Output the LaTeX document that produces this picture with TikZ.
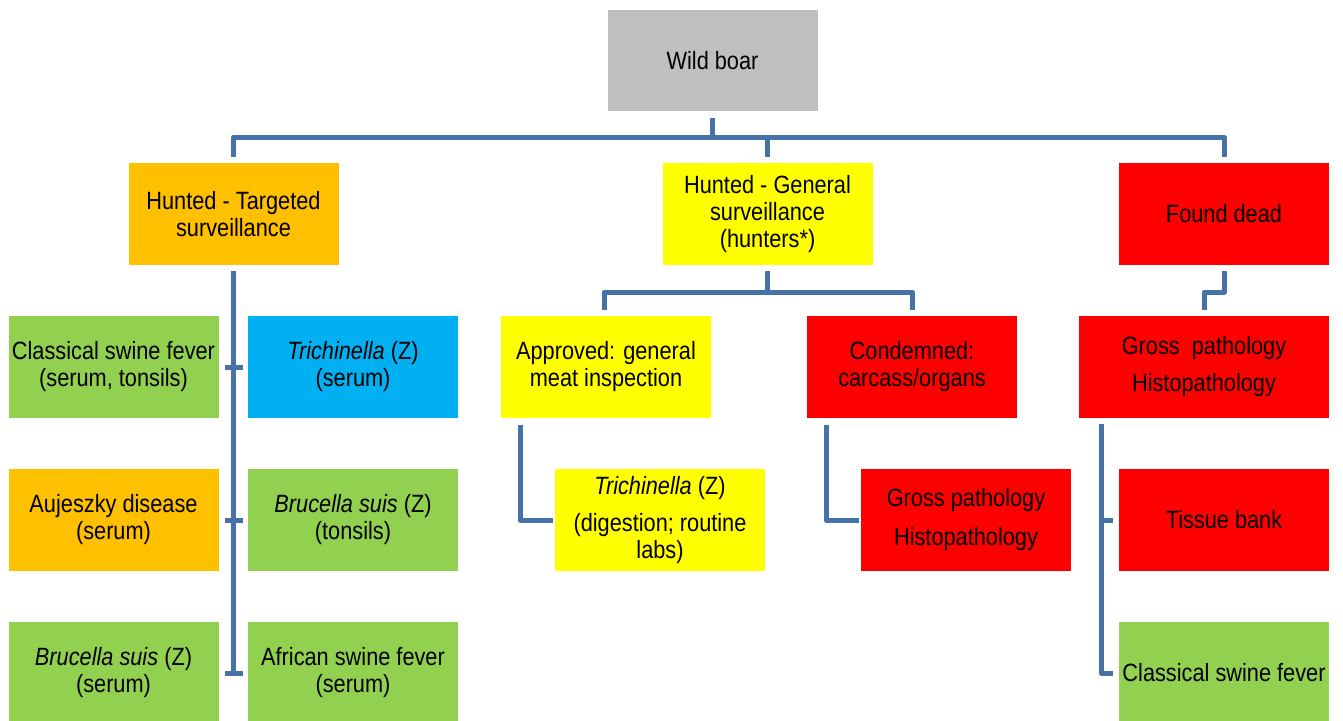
\documentclass[tikz,border=0pt]{standalone}
\usepackage{fontspec}
\setmainfont{Liberation Sans}[FakeStretch=0.87]
\definecolor{boxgray}{HTML}{BFBFBF}
\definecolor{boxorange}{HTML}{FFC000}
\definecolor{boxyellow}{HTML}{FFFF00}
\definecolor{boxred}{HTML}{FF0000}
\definecolor{boxgreen}{HTML}{92D050}
\definecolor{boxblue}{HTML}{00B0F0}
\definecolor{linkblue}{RGB}{70,114,168}
\begin{document}
\begin{tikzpicture}[x=1pt,y=-1pt,
  box/.style={rectangle, minimum width=210pt, minimum height=102pt, inner sep=0pt,
    align=center, font=\fontsize{25}{27}\selectfont, text=black},
  conn/.style={draw=linkblue, line width=5pt, line join=round}]
\useasboundingbox (0,0) rectangle (1343,720);

% top and second level
\node[box, fill=boxgray, minimum height=101pt] (wb) at (712.5,60.5) {Wild boar};
\node[box, fill=boxorange] (ht) at (233.5,214) {Hunted - Targeted\\surveillance};
\node[box, fill=boxyellow] (hg) at (767.5,214) {Hunted - General\\surveillance\\(hunters*)};
\node[box, fill=boxred] (fd) at (1224,214) {Found dead};

% targeted surveillance
\node[box, fill=boxgreen] (csf) at (113.5,367) {Classical swine fever\\(serum, tonsils)};
\node[box, fill=boxblue] (tri) at (353,367) {\textit{Trichinella} (Z)\\(serum)};
\node[box, fill=boxorange] (auj) at (113.5,520) {Aujeszky disease\\(serum)};
\node[box, fill=boxgreen] (bru) at (353,520) {\textit{Brucella suis} (Z)\\(tonsils)};
\node[box, fill=boxgreen] (brs) at (113.5,673) {\textit{Brucella suis} (Z)\\(serum)};
\node[box, fill=boxgreen] (asf) at (353,673) {African swine fever\\(serum)};

% general surveillance
\node[box, fill=boxyellow] (app) at (606,367) {Approved: general\\meat inspection};
\node[box, fill=boxred] (con) at (912,367) {Condemned:\\carcass/organs};
\node[box, fill=boxyellow] (trd) at (660,520) {\textit{Trichinella} (Z)\\[10pt](digestion; routine\\labs)};
\node[box, fill=boxred] (gph) at (966,520) {Gross pathology\\[12pt]Histopathology};

% found dead
\node[box, fill=boxred, minimum width=250pt] (gp) at (1204,367) {Gross\ \ pathology\\[10pt]Histopathology};
\node[box, fill=boxred] (tb) at (1224,520) {Tissue bank};
\node[box, fill=boxgreen] (csf2) at (1224,673) {Classical swine fever};

% connectors from the top
\coordinate (bus) at (712.5,137);
\draw[conn] ([yshift=-7pt]wb.south) -- (bus);
\draw[conn] ([yshift=6pt]ht.north) |- (bus) -| ([yshift=6pt]fd.north);
\draw[conn] ([yshift=6pt]hg.north) -- (hg.north |- bus);

% targeted spine with ticks
\draw[conn] ([yshift=-6pt]ht.south) -- (ht.south |- brs.east);
\draw[conn] ([xshift=6.5pt]csf.east) -- ([xshift=-5pt]tri.west);
\draw[conn] ([xshift=6.5pt]auj.east) -- ([xshift=-5pt]bru.west);
\draw[conn] ([xshift=6.5pt]brs.east) -- ([xshift=-5pt]asf.west);

% general surveillance branches
\coordinate (mbus) at (767.5,292);
\draw[conn] ([yshift=-6pt]hg.south) -- (mbus);
\draw[conn] ([xshift=-2pt,yshift=6pt]app.north) |- (mbus) -| ([yshift=6pt]con.north);
\draw[conn] ([xshift=-86pt,yshift=-7pt]app.south) |- ([xshift=-2pt]trd.west);
\draw[conn] ([xshift=-86pt,yshift=-7pt]con.south) |- ([xshift=-2pt]gph.west);

% found dead branches
\draw[conn] ([yshift=-6pt]fd.south) -- ++(0,21) -| ([yshift=6pt]gp.north);
\coordinate (rs) at ([xshift=-103pt,yshift=-6pt]gp.south);
\draw[conn] (rs) |- ([xshift=-6pt]csf2.west);
\draw[conn] (rs |- tb.west) -- ([xshift=-6pt]tb.west);
\end{tikzpicture}
\end{document}
